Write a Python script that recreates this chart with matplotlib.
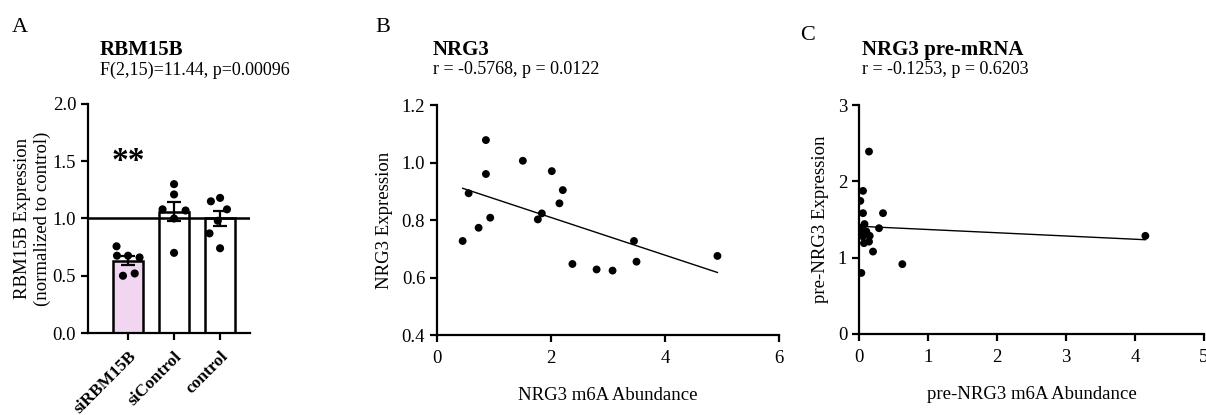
"""Three-panel figure: RBM15B knockdown bars and NRG3 correlation scatters."""
import numpy as np
import matplotlib
matplotlib.use('Agg')
import matplotlib.pyplot as plt

plt.rcParams['font.family'] = ['Liberation Serif', 'DejaVu Serif']

# Panel A data
groups = ['siRBM15B', 'siControl', 'control']
si_rbm = [0.757, 0.675, 0.675, 0.66, 0.50, 0.52]
si_ctrl = [1.30, 1.21, 1.08, 1.00, 1.07, 0.70]
ctrl = [1.18, 1.15, 1.08, 0.98, 0.87, 0.74]
group_values = [si_rbm, si_ctrl, ctrl]
jitter = [[-0.25, -0.24, 0.0, 0.25, -0.11, 0.145],
          [0.0, 0.0, -0.25, 0.0, 0.25, 0.0],
          [0.0, -0.2, 0.15, -0.05, -0.23, 0.0]]

# Panel B data
nrg3_m6a = [0.45, 0.555, 0.73, 0.858, 0.858, 0.934, 1.506, 1.769, 1.839,
            2.014, 2.148, 2.207, 2.376, 2.80, 3.08, 3.456, 3.50, 4.92]
nrg3_expr = [0.727, 0.893, 0.773, 1.078, 0.96, 0.808, 1.006, 0.802, 0.823,
             0.970, 0.858, 0.904, 0.647, 0.628, 0.624, 0.727, 0.655, 0.675]

# Panel C data
pre_m6a = [0.145, 0.058, 0.019, 0.058, 0.348, 0.0, 0.08, 0.048, 0.106,
           0.29, 0.155, 0.058, 0.072, 0.145, 0.203, 0.034, 0.628, 4.15]
pre_expr = [2.39, 1.875, 1.744, 1.583, 1.583, 1.395, 1.44, 1.343, 1.343,
            1.386, 1.286, 1.277, 1.19, 1.21, 1.08, 0.80, 0.915, 1.286]

fig = plt.figure(figsize=(12.06, 4.15), dpi=100)
W, H = 1206, 415


def axes_px(left, right, top, bottom):
    return fig.add_axes([left / W, 1 - bottom / H, (right - left) / W,
                         (bottom - top) / H])


def style(ax):
    for s in ['top', 'right']:
        ax.spines[s].set_visible(False)
    for s in ['left', 'bottom']:
        ax.spines[s].set_linewidth(1.6)
    ax.tick_params(width=1.6, length=5, labelsize=13.5, direction='out')
    ax.tick_params(axis='x', pad=6)


# ---- Panel A
axA = axes_px(88, 250, 104, 333)
style(axA)
pos = np.arange(len(groups))
means = [np.mean(v) for v in group_values]
sems = [np.std(v, ddof=1) / np.sqrt(len(v)) for v in group_values]
axA.bar(pos, means, width=0.65, color=['#f2d5f0', 'white', 'white'],
        edgecolor='black', linewidth=1.8, zorder=2)
axA.errorbar(pos, means, yerr=sems, fmt='none', ecolor='black',
             elinewidth=1.6, capsize=5, capthick=1.6, zorder=3)
for i, vals in enumerate(group_values):
    axA.scatter(pos[i] + np.array(jitter[i]), vals, s=34, color='black',
                zorder=4, edgecolors='none')
axA.axhline(1.0, color='black', linewidth=1.8, zorder=5)
axA.set_xlim(-0.87, 2.65)
axA.set_ylim(0, 2.0)
axA.set_yticks([0.0, 0.5, 1.0, 1.5, 2.0])
axA.set_yticklabels(['0.0', '0.5', '1.0', '1.5', '2.0'])
axA.set_xticks(pos)
axA.set_xticklabels(groups, rotation=45, ha='right', rotation_mode='anchor',
                    fontweight='bold', fontsize=12.5)
axA.tick_params(axis='x', pad=6)
axA.set_ylabel('RBM15B Expression\n(normalized to control)', fontsize=13.5,
               labelpad=1)
axA.text(0, 1.5, '**', ha='center', va='center', fontsize=24,
         fontweight='bold')

# ---- Panel B
axB = axes_px(437, 779, 105, 335)
style(axB)
axB.scatter(nrg3_m6a, nrg3_expr, s=32, color='black', edgecolors='none',
            zorder=3)
slope, icpt = np.polyfit(nrg3_m6a, nrg3_expr, 1)
xs = np.array([min(nrg3_m6a), max(nrg3_m6a)])
axB.plot(xs, slope * xs + icpt, color='black', linewidth=1)
axB.set_xlim(0, 6)
axB.set_ylim(0.4, 1.2)
axB.set_xticks([0, 2, 4, 6])
axB.set_yticks([0.4, 0.6, 0.8, 1.0, 1.2])
axB.set_yticklabels(['0.4', '0.6', '0.8', '1.0', '1.2'])
axB.set_xlabel('NRG3 m6A Abundance', fontsize=13.5, labelpad=14)
axB.set_ylabel('NRG3 Expression', fontsize=13.5, labelpad=6)

# ---- Panel C
axC = axes_px(859, 1204, 105, 334)
style(axC)
axC.scatter(pre_m6a, pre_expr, s=32, color='black', edgecolors='none',
            zorder=3)
slope, icpt = np.polyfit(pre_m6a, pre_expr, 1)
xs = np.array([min(pre_m6a), max(pre_m6a)])
axC.plot(xs, slope * xs + icpt, color='black', linewidth=1)
axC.set_xlim(0, 5)
axC.set_ylim(0, 3)
axC.set_xticks([0, 1, 2, 3, 4, 5])
axC.set_yticks([0, 1, 2, 3])
axC.set_xlabel('pre-NRG3 m6A Abundance', fontsize=13.5, labelpad=14)
axC.set_ylabel('pre-NRG3 Expression', fontsize=13.5, labelpad=6)

# ---- Panel letters and titles
def fig_text(x, y, s, **kw):
    fig.text(x / W, 1 - y / H, s, **kw)


fig_text(12, 28, 'A', fontsize=16, va='center')
fig_text(375, 28, 'B', fontsize=16, va='center')
fig_text(800, 36, 'C', fontsize=16, va='center')
fig_text(100, 50, 'RBM15B', fontsize=15, fontweight='bold', va='center')
fig_text(100, 70, 'F(2,15)=11.44, p=0.00096', fontsize=13, va='center')
fig_text(433, 50, 'NRG3', fontsize=15, fontweight='bold', va='center')
fig_text(433, 70, 'r = -0.5768, p = 0.0122', fontsize=13, va='center')
fig_text(862, 50, 'NRG3 pre-mRNA', fontsize=15, fontweight='bold',
         va='center')
fig_text(862, 70, 'r = -0.1253, p = 0.6203', fontsize=13, va='center')

fig.savefig('out.png', dpi=100)
